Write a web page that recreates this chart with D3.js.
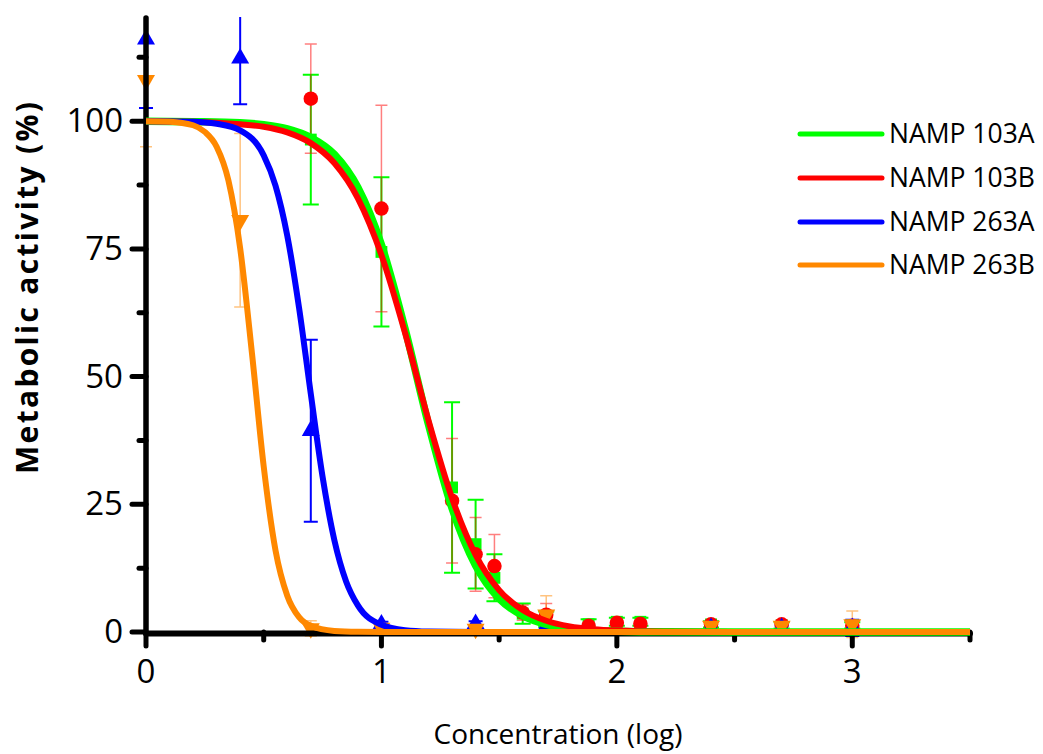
<!DOCTYPE html>
<html>
<head>
<meta charset="utf-8">
<script src="https://cdn.jsdelivr.net/npm/d3@7"></script>
<style>
  html, body { margin: 0; padding: 0; background: #fff; }
  svg { display: block; }
  text { font-family: "Open Sans", "Lato", sans-serif; fill: #000; }
</style>
</head>
<body>
<svg id="chart" width="1043" height="754"></svg>
<script>
// ---------------- data ----------------
const seriesNames = ["NAMP 103A", "NAMP 103B", "NAMP 263A", "NAMP 263B"];
const seriesColors = ["#00ff00", "#ff0000", "#0000ff", "#ff8800"];

// measured points (log concentration, mean %, error)
const x103 = [0.7, 1.0, 1.3, 1.4, 1.48, 1.6, 1.7, 1.88, 2.0, 2.1, 2.4, 2.7, 3.0];
const mean103A = [96.4, 74.4, 28.3, 17.2, 10.6, 3.6, 2.5, 1.5, 2.0, 2.0, 1.5, 1.3, 1.3];
const err103A  = [12.7, 14.6, 16.7, 8.7, 4.6, 2.0, 1.5, 1.0, 0.8, 0.8, 0.6, 0.6, 0.6];
const mean103B = [104.4, 82.9, 25.7, 15.2, 12.9, 3.8, 3.4, 1.2, 1.8, 1.6, 1.5, 1.5, 1.2];
const err103B  = [10.7, 20.2, 12.2, 7.2, 6.2, 1.5, 2.2, 0.8, 1.0, 0.6, 0.8, 0.8, 0.8];

const x263 = [0, 0.4, 0.7, 1.0, 1.4, 1.7, 2.4, 2.7, 3.0];
const mean263A = [116, 112.3, 39.4, 1.5, 1.6, 1.2, 0.8, 0.8, 0.8];
const err263A  = [13.4, 9, 17.8, 0.5, 0.5, 0.5, 0.4, 0.4, 1.6];
const mean263B = [108, 80.6, 0.7, 0.8, 0.6, 3.4, 1.2, 1.2, 1.5];
const err263B  = [13, 17, 1.5, 0.8, 0.5, 3.7, 0.5, 0.5, 2.6];

// fitted curves
const curveX103 = [0, 0.2, 0.4, 0.5, 0.6, 0.7, 0.8, 0.9, 1.0, 1.1, 1.2, 1.3, 1.4, 1.5, 1.6, 1.7, 1.8, 1.9, 2.0, 2.2, 2.5, 3.0, 3.5];
const curve103A = [100, 99.9, 99.7, 99.3, 98.5, 96.8, 93.5, 87.0, 75.8, 59.4, 40.6, 24.2, 13.0, 6.5, 3.2, 1.5, 0.7, 0.3, 0.16, 0.03, 0, 0, 0];
const curve103B = [100, 99.9, 99.4, 98.9, 97.8, 95.7, 91.8, 84.9, 73.8, 58.6, 41.4, 26.2, 15.1, 8.2, 4.3, 2.2, 1.1, 0.56, 0.28, 0.07, 0.01, 0, 0];
const curveX263A = [0, 0.2, 0.3, 0.4, 0.5, 0.55, 0.6, 0.65, 0.7, 0.75, 0.8, 0.85, 0.9, 1.0, 1.1, 1.2, 1.4, 1.6, 2.0, 2.5, 3.0, 3.5];
const curve263A  = [100, 99.9, 99.5, 98.2, 93.3, 87.4, 77.6, 63.5, 46.6, 30.4, 18.0, 9.9, 5.2, 1.4, 0.35, 0.09, 0.01, 0, 0, 0, 0, 0];
const curveX263B = [0, 0.1, 0.2, 0.25, 0.3, 0.35, 0.4, 0.45, 0.5, 0.55, 0.6, 0.65, 0.7, 0.8, 0.9, 1.0, 1.5, 2.0, 2.5, 3.0, 3.5];
const curve263B  = [100, 99.9, 99.2, 97.9, 95.0, 88.4, 75.1, 54.6, 32.4, 16.0, 7.1, 2.9, 1.2, 0.2, 0.03, 0, 0, 0, 0, 0, 0];

const xTicks = [0, 1, 2, 3];
const xMinorTicks = [0.5, 1.5, 2.5, 3.5];
const yTicks = [0, 25, 50, 75, 100];
const yMinorTicks = [12.5, 37.5, 62.5, 87.5, 112.5];
const xTitle = "Concentration (log)";
const yTitle = "Metabolic activity (%)";

// ---------------- drawing ----------------
const svg = d3.select("#chart");
const x = d3.scaleLinear().domain([0, 3.5]).range([146, 970]);
const y = d3.scaleLinear().domain([0, 120]).range([632, 19]);

svg.append("defs").append("clipPath").attr("id", "plotclip")
  .append("rect").attr("x", 130).attr("y", 17).attr("width", 860).attr("height", y(0) - 17 + 20);

const plot = svg.append("g").attr("clip-path", "url(#plotclip)");

const markerSeries = [
  { xs: x103, m: mean103A, e: err103A, color: seriesColors[0], sym: d3.symbolSquare, size: 140, rot: 0, barOpacity: 1, barWidth: 2, cap: 8 },
  { xs: x103, m: mean103B, e: err103B, color: seriesColors[1], sym: d3.symbolCircle, size: 165, rot: 0, barOpacity: 0.5, barWidth: 1.5, cap: 6 },
  { xs: x263, m: mean263A, e: err263A, color: seriesColors[2], sym: d3.symbolTriangle, size: 140, rot: 0, barOpacity: 1, barWidth: 2, cap: 7 },
  { xs: x263, m: mean263B, e: err263B, color: seriesColors[3], sym: d3.symbolTriangle, size: 140, rot: 180, barOpacity: 0.5, barWidth: 1.5, cap: 6 }
];

// error bars
markerSeries.forEach(s => {
  const pts = s.xs.map((xv, i) => ({ x: xv, m: s.m[i], e: s.e[i] }));
  const g = plot.append("g").attr("stroke", s.color).attr("stroke-width", s.barWidth)
    .attr("stroke-opacity", s.barOpacity).attr("fill", "none");
  g.selectAll("path").data(pts).join("path")
    .attr("d", d => {
      const cx = x(d.x), t = y(d.m + d.e), b = y(d.m - d.e);
      return `M${cx},${t}V${b}M${cx - s.cap},${t}H${cx + s.cap}M${cx - s.cap},${b}H${cx + s.cap}`;
    });
});

// markers
markerSeries.forEach(s => {
  const pts = s.xs.map((xv, i) => ({ x: xv, m: s.m[i] }));
  plot.append("g").selectAll("path").data(pts).join("path")
    .attr("d", d3.symbol().type(s.sym).size(s.size))
    .attr("transform", d => `translate(${x(d.x)},${y(d.m)}) rotate(${s.rot})`)
    .attr("fill", s.color);
});

// axes
const axisG = svg.append("g").attr("stroke", "#000").attr("stroke-linecap", "round").attr("fill", "none");
axisG.append("line").attr("x1", x(0)).attr("x2", x(3.5)).attr("y1", y(0) + 1.5).attr("y2", y(0) + 1.5).attr("stroke-width", 6);
axisG.append("line").attr("x1", x(0)).attr("x2", x(0)).attr("y1", y(0) + 1.5).attr("y2", y(120) - 1).attr("stroke-width", 5.5);
axisG.selectAll(".xt").data(xTicks).join("line")
  .attr("x1", d => x(d)).attr("x2", d => x(d)).attr("y1", y(0)).attr("y2", y(0) + 14).attr("stroke-width", 5);
axisG.selectAll(".xm").data(xMinorTicks).join("line")
  .attr("x1", d => x(d)).attr("x2", d => x(d)).attr("y1", y(0)).attr("y2", y(0) + 8).attr("stroke-width", 5);
axisG.selectAll(".yt").data(yTicks).join("line")
  .attr("x1", x(0) - 14).attr("x2", x(0)).attr("y1", d => y(d)).attr("y2", d => y(d)).attr("stroke-width", 5);
axisG.selectAll(".ym").data(yMinorTicks).join("line")
  .attr("x1", x(0) - 7).attr("x2", x(0)).attr("y1", d => y(d)).attr("y2", d => y(d)).attr("stroke-width", 5);

svg.append("g").selectAll("text").data(xTicks).join("text")
  .attr("x", d => x(d)).attr("y", 683).attr("text-anchor", "middle")
  .attr("font-size", 33).text(d => d);
svg.append("g").selectAll("text").data(yTicks).join("text")
  .attr("x", 123).attr("y", d => y(d) + 11).attr("text-anchor", "end")
  .attr("font-size", 33).text(d => d);

svg.append("text").attr("x", 558).attr("y", 744).attr("text-anchor", "middle")
  .attr("font-size", 28).text(xTitle);
svg.append("text").attr("transform", "translate(38,288) rotate(-90)").attr("text-anchor", "middle")
  .attr("font-size", 30).attr("font-weight", "bold")
  .attr("textLength", 372).attr("lengthAdjust", "spacing").text(yTitle);

// curves
const line = d3.line().x(d => x(d[0])).y(d => y(d[1])).curve(d3.curveMonotoneX);
const curves = [
  { xs: curveX103, ys: curve103A, color: seriesColors[0], w: 7.5 },
  { xs: curveX103, ys: curve103B, color: seriesColors[1], w: 6 },
  { xs: curveX263A, ys: curve263A, color: seriesColors[2], w: 6 },
  { xs: curveX263B, ys: curve263B, color: seriesColors[3], w: 6 }
];
curves.forEach(c => {
  svg.append("path").datum(c.xs.map((v, i) => [v, c.ys[i]]))
    .attr("d", line).attr("fill", "none").attr("stroke", c.color)
    .attr("stroke-width", c.w).attr("stroke-linecap", "butt");
});

// legend
const legendY = [134, 178, 222, 265];
const leg = svg.append("g");
seriesNames.forEach((n, i) => {
  leg.append("line").attr("x1", 800).attr("x2", 882).attr("y1", legendY[i]).attr("y2", legendY[i])
    .attr("stroke", seriesColors[i]).attr("stroke-width", 5).attr("stroke-linecap", "round");
  leg.append("text").attr("x", 889).attr("y", legendY[i] + 9).attr("font-size", 26.5).text(n);
});
</script>
</body>
</html>
